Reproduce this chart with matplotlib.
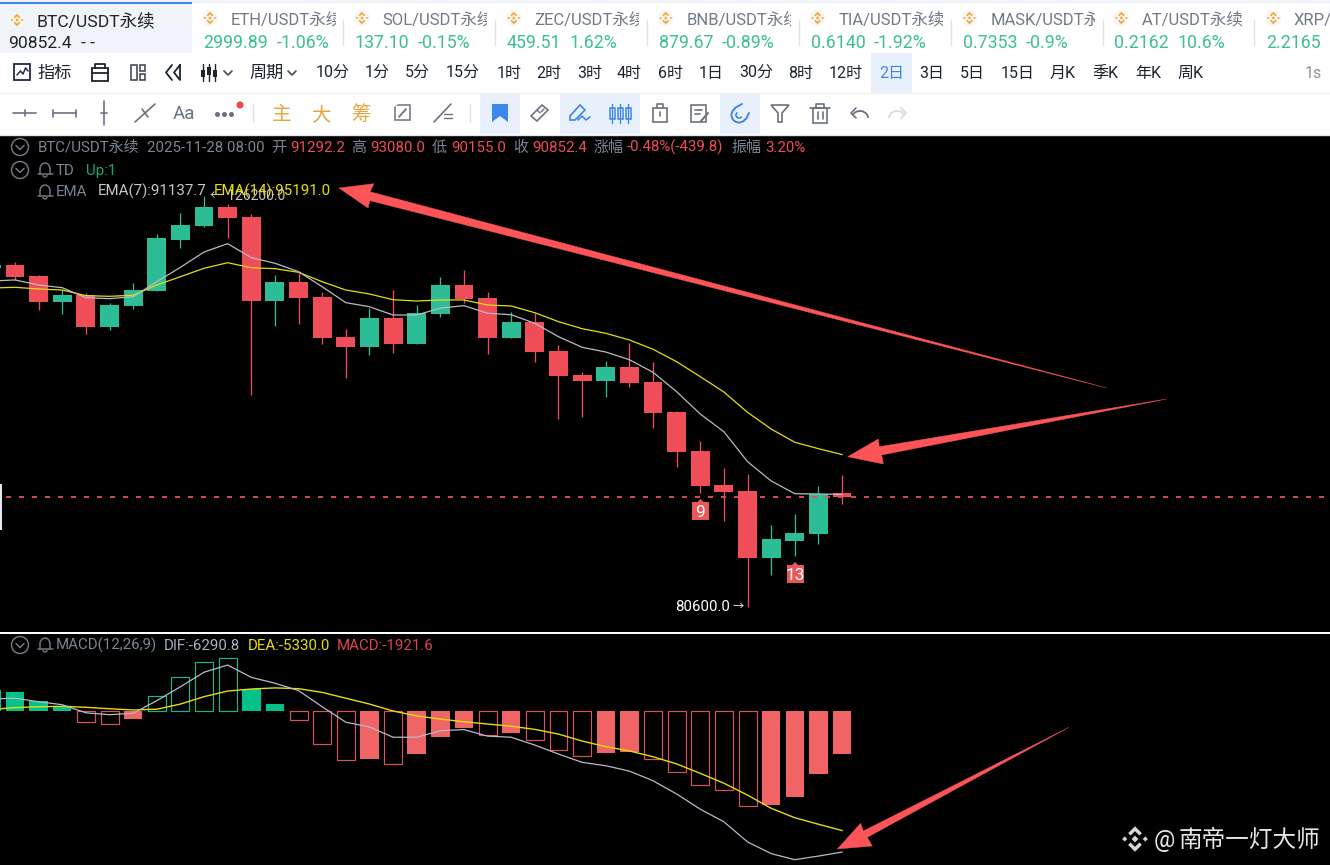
import matplotlib
matplotlib.use('Agg')
import matplotlib.pyplot as plt
from matplotlib.patches import Rectangle, Circle, Polygon, Arc
from matplotlib.ticker import NullLocator
from matplotlib.transforms import Bbox, TransformedBbox

plt.rcParams['font.family'] = ['Roboto', 'Noto Sans CJK SC', 'DejaVu Sans']

# Candles, 2 day BTC/USDT perpetual
opens = [116720, 117100, 115700, 112500, 113320, 109470, 112010, 113860, 120340, 122240,
         124760, 123400, 112620, 114950, 113080, 108240, 107100, 110480, 107380, 110960,
         114570, 112920, 108120, 110030, 106600, 103840, 103200, 104720, 103050, 99690,
         95540, 92110, 91480, 85050, 86650, 87260, 91292.2]
closes = [117100, 115610, 112500, 113320, 109470, 112090, 113940, 120600, 122330, 124760,
          123270, 112620, 114950, 112920, 108090, 107100, 110480, 107380, 111080, 114570,
          112790, 108120, 110030, 106520, 103760, 103200, 104720, 102940, 99620, 95490,
          92010, 91410, 85050, 86780, 87350, 91180, 90852.4]
highs = [117300, 117520, 115830, 113940, 113570, 112340, 114820, 121130, 123940, 126200,
         125170, 123810, 115830, 116080, 113700, 109190, 111720, 113940, 112090, 115610,
         116460, 113660, 111280, 111150, 107300, 104220, 105440, 107500, 105330, 99870,
         96590, 93780, 93170, 88120, 89180, 91980, 93080]
lows = [116500, 115200, 111520, 111000, 108600, 109070, 111600, 113860, 119290, 122060,
        120600, 101590, 109550, 109790, 107420, 103530, 106130, 106400, 107380, 110670,
        112340, 106250, 108120, 105360, 98930, 99210, 101340, 102450, 98030, 93940,
        91310, 88560, 80600, 83460, 85210, 86310, 90155]
ema7 = [115070, 115200, 114570, 114230, 112990, 112870, 113110, 114980, 116800, 118770,
        119860, 118040, 117320, 116250, 114350, 112380, 111880, 110870, 110870, 111720,
        112010, 111080, 110910, 109870, 108280, 107030, 106480, 105590, 104150, 101960,
        99510, 97600, 94460, 92490, 91210, 91180, 91137.7]
ema14 = [114190, 114280, 114070, 113940, 113240, 113160, 113290, 114570, 115610, 116680,
         117390, 116750, 116630, 116170, 114980, 113940, 113450, 112740, 112580, 112710,
         112710, 112090, 111970, 111150, 110070, 109230, 108680, 107890, 106800, 105360,
         103650, 101930, 99690, 97890, 96480, 95810, 95191]

# MACD pane
macd_hist = [940, 850, 450, 220, -500, -580, -360, 670, 1500, 2170,
             2350, 980, 300, -400, -1460, -2190, -2140, -2350, -1920, -1150,
             -760, -1080, -970, -1310, -1740, -2020, -1860, -1850, -2130, -2710,
             -3300, -3520, -4240, -4210, -3820, -2810, -1921.6]
dif = [535, 570, 415, 280, -80, -165, -100, 460, 1080, 1730,
       2050, 1500, 1240, 910, 190, -500, -710, -1170, -1170, -880,
       -830, -1120, -1170, -1520, -1920, -2290, -2440, -2680, -3110, -3700,
       -4380, -4940, -5840, -6360, -6630, -6470, -6290.8]
dea = [70, 150, 190, 210, 165, 100, 45, 80, 310, 640,
       890, 980, 1030, 995, 830, 570, 310, 0, -220, -360,
       -480, -580, -680, -820, -1030, -1340, -1590, -1780, -2040, -2360,
       -2780, -3220, -3750, -4340, -4760, -5050, -5330]

last_price = 90852.4

# Header tabs
tab_names = ['ETH/USDT永续', 'SOL/USDT永续', 'ZEC/USDT永续', 'BNB/USDT永续',
             'TIA/USDT永续', 'MASK/USDT永续', 'AT/USDT永续', 'XRP/USDT永续']
tab_prices = ['2999.89', '137.10', '459.51', '879.67', '0.6140', '0.7353', '0.2162', '2.2165']
tab_changes = ['-1.06%', '-0.15%', '1.62%', '-0.89%', '-1.92%', '-0.9%', '10.6%', '']
periods = ['10分', '1分', '5分', '15分', '1时', '2时', '3时', '4时', '6时', '1日', '30分', '8时',
           '12时', '2日', '3日', '5日', '15日', '月K', '季K', '年K', '周K']

RED = '#ef4d58'
GREEN = '#2dbd96'
GRAY = '#7c8594'
ICON = '#6b7280'
BLUE = '#3f86ea'
ARROW = '#fd5557'
n = len(opens)
x = list(range(n))

fig = plt.figure(figsize=(13.3, 8.65), dpi=100, facecolor='white')

def pane(top, bottom):
    ax = fig.add_axes([0, 1 - bottom / 865, 1, (bottom - top) / 865], facecolor='black')
    ax.set_xlim(0.365, 56.65)
    ax.set_xticks([])
    for s in ax.spines.values():
        s.set_visible(False)
    return ax

# Main candles, the price axis is logarithmic
ax = pane(136, 632)
ax.set_yscale('log')
ax.set_ylim(78420, 134820)
ax.yaxis.set_major_locator(NullLocator())
ax.yaxis.set_minor_locator(NullLocator())
colors = [GREEN if c > o else RED for o, c in zip(opens, closes)]
ax.vlines(x, lows, highs, color=colors, lw=0.95, zorder=2)
ax.bar(x, [abs(c - o) for o, c in zip(opens, closes)], bottom=[min(o, c) for o, c in zip(opens, closes)],
       width=0.8, color=colors, zorder=3)
ax.plot(x, ema14, color='#e8dc10', lw=0.9, zorder=4)
ax.plot(x, ema7, color='#b8bbc4', lw=0.9, zorder=4)
ax.plot([0.62, 56.65], [last_price, last_price], color='#e6505c', lw=1.3, dashes=(2.8, 4.4), zorder=4)

# MACD
ax2 = pane(634, 865)
ax2.set_ylim(-6868, 3434)
ax2.set_yticks([])
for i, v in enumerate(macd_hist):
    prev = macd_hist[i - 1] if i else v
    col = '#03c289' if v > 0 else '#f06466'
    edge = '#12b888' if v > 0 else '#d8535a'
    hollow = v > prev if v > 0 else v < prev
    if hollow:
        ax2.bar(i, v, width=0.76, fill=False, edgecolor=edge, lw=0.85, zorder=2)
    else:
        ax2.bar(i, v, width=0.78, color=col, zorder=2)
ax2.plot(x, dea, color='#e8dc10', lw=1.0, zorder=3)
ax2.plot(x, dif, color='#b4bbcc', lw=0.9, zorder=3)

# Everything else sits on an overlay in screen pixels
ui = fig.add_axes([0, 0, 1, 1], zorder=5)
ui.set_xlim(0, 1330)
ui.set_ylim(865, 0)
ui.axis('off')

def txt(px, py, s, color=GRAY, size=10.8, **kw):
    return ui.text(px, py, s, color=color, fontsize=size, va='baseline', **kw)

def line(xs, ys, color=ICON, lw=1.2):
    ui.plot(xs, ys, color=color, lw=lw, solid_capstyle='round')

def box(x0, y0, x1, y1, **kw):
    ui.add_patch(Rectangle((x0, y0), x1 - x0, y1 - y0, **kw))

def logo(cx, cy, s, color):
    def d(dx, dy, r):
        ui.add_patch(Polygon([(cx + (dx + r) * s, cy + dy * s), (cx + dx * s, cy + (dy + r) * s),
                              (cx + (dx - r) * s, cy + dy * s), (cx + dx * s, cy + (dy - r) * s)],
                             color=color, lw=0))
    d(0, 0, 3.5)
    d(-10.5, 0, 2.6)
    d(10.5, 0, 2.6)
    for sign in (-1, 1):
        pts = [(0, -13), (7, -6), (4.5, -3.5), (0, -8), (-4.5, -3.5), (-7, -6)]
        ui.add_patch(Polygon([(cx + a * s, cy + sign * -b * s) for a, b in pts], color=color, lw=0))

def coin(cx, cy):
    ui.add_patch(Circle((cx, cy), 8, color='#f6f6f4', lw=0))
    logo(cx, cy, 0.48, '#f2a72e')

def fold_icon(cx, cy):
    ui.add_patch(Circle((cx, cy), 8.5, fill=False, ec='#6f7581', lw=1.1))
    line([cx - 4, cx, cx + 4], [cy - 1.5, cy + 2.5, cy - 1.5], '#6f7581', 1.1)

def bell(cx, cy):
    ui.add_patch(Arc((cx, cy - 1), 10, 12, theta1=180, theta2=360, color='#6f7581', lw=1.1))
    line([cx - 5, cx - 5], [cy - 1, cy + 4], '#6f7581', 1.1)
    line([cx + 5, cx + 5], [cy - 1, cy + 4], '#6f7581', 1.1)
    line([cx - 7.5, cx + 7.5], [cy + 4, cy + 4], '#6f7581', 1.1)
    ui.add_patch(Arc((cx, cy + 5), 4, 4, theta1=0, theta2=180, color='#6f7581', lw=1))

def chevron(cx, cy, color='#444c5a'):
    line([cx - 4, cx, cx + 4], [cy - 2, cy + 2, cy - 2], color, 1.2)

# Tab strip
box(0, 0, 1330, 2.5, color='#f0f3f7', lw=0)
box(0, 2.5, 192, 53, color='#f0f4f9', lw=0)
box(0, 2, 192, 4, color=BLUE, lw=0)
coin(17, 20)
txt(36, 26, 'BTC/USDT永续', '#1c2430', 12.6)
txt(8, 48, '90852.4', '#1c2430', 12.6)
txt(81, 48, '-', '#1c2430', 12.6)
txt(90, 48, '-', '#1c2430', 12.6)
for i, (name, price, chg) in enumerate(zip(tab_names, tab_prices, tab_changes)):
    left = 203 + 151.9 * i
    coin(left + 7, 18)
    t = txt(left + 27.7, 25, name, '#727a88', 12)
    t.set_clip_on(True)
    t.set_clip_box(TransformedBbox(Bbox([[left, 0], [left + 132.5, 50]]), ui.transData))
    txt(left, 48, price, '#3dbf94', 12.8)
    txt(left + (74 if i == 0 else 63), 48, chg, '#3dbf94', 12.8)
    if i < 7:
        line([left + 140] * 2, [20, 45], '#dfe3e8', 1)

# Period row
ui.add_patch(Rectangle((14, 64), 16, 16, fill=False, ec='#1f2a44', lw=1.3))
line([17, 20.5, 23, 25.5, 28], [75, 71, 74, 68, 71], '#1f2a44', 1.1)
txt(37, 78, '指标', '#1c2430', 12.3)
ui.add_patch(Rectangle((92, 68), 16, 13, fill=False, ec='#1c2430', lw=1.3))
line([95, 95, 105, 105], [68, 64, 64, 68], '#1c2430', 1.3)
line([92, 108], [73, 73], '#1c2430', 1.3)
ui.add_patch(Rectangle((130.5, 65), 6, 15, fill=False, ec='#444c5a', lw=1.2))
ui.add_patch(Rectangle((139.5, 65), 5.5, 6, fill=False, ec='#444c5a', lw=1.2))
ui.add_patch(Rectangle((139.5, 74), 5.5, 6, fill=False, ec='#444c5a', lw=1.2))
line([172, 166, 172], [65, 72.5, 80], '#1c2430', 1.3)
line([180, 174, 180, 180], [65, 72.5, 80, 65], '#1c2430', 1.3)
for cx, (t0, t1) in zip([203, 209, 215], [(70, 77), (67, 75), (70, 77)]):
    line([cx, cx], [64, 81], '#1c2430', 1)
    box(cx - 1.6, t0, cx + 1.6, t1, color='#1c2430', lw=0)
chevron(228, 73)
txt(249, 78, '周期', '#1c2430', 12.3)
chevron(292, 73)
period_x = [316, 365, 405, 446, 497, 536, 577, 617, 658, 699, 739, 788, 829, 879, 919, 960, 1001,
            1050, 1092, 1135, 1177]
box(871, 53, 912, 93, color='#e8f1fb', lw=0)
for px, p in zip(period_x, periods):
    txt(px, 78, p, BLUE if p == '2日' else '#1c2430', 11.5)
txt(1305, 78, '1s', '#8b919c', 11.5)
line([0, 1330], [93, 93], '#eef0f3', 1)

# Drawing tools row
line([13, 36], [113, 113])
line([24.5, 24.5], [110, 116])
line([53, 76], [113, 113])
line([53, 53], [109.5, 116.5])
line([76, 76], [109.5, 116.5])
line([104, 104], [101, 125])
line([101, 107], [113, 113])
line([135, 155], [122, 104])
line([142, 148], [109, 117])
txt(173, 119, 'Aa', ICON, 13.5)
ui.plot([217, 224, 231], [113.5] * 3, 'o', color=ICON, ms=2.6)
ui.add_patch(Circle((240, 105), 3.5, color='#f0483e', lw=0))
line([253, 253], [104, 122], '#dfe3e8', 1)
for px, s in zip([282, 321, 361], ['主', '大', '筹']):
    txt(px, 120, s, '#e3a53f', 14, ha='center')
ui.add_patch(Rectangle((395, 105), 15, 15, fill=False, ec=ICON, lw=1.1))
line([399, 406], [117, 109], ICON, 1.3)
line([391, 395, 399], [108, 105, 102], '#ffffff', 1.6)
line([434, 451], [122, 104])
line([444, 452], [114, 114], ICON, 1)
line([444, 452], [118, 118], ICON, 1)
line([470, 470], [104, 122], '#dfe3e8', 1)
for x0, x1 in [(480, 520), (560, 640), (720, 760)]:
    box(x0, 94, x1, 134, color='#e8f1fb', lw=0)
ui.add_patch(Polygon([(492, 104), (508, 104), (508, 122), (500, 116), (492, 122)], color=BLUE, lw=0))
ui.add_patch(Polygon([(531, 116), (542, 105), (548, 110), (537, 121)], fill=False, ec=ICON, lw=1.2))
line([537, 540], [110, 113], ICON, 1)
line([541, 544], [112, 109], ICON, 1)
ui.add_patch(Polygon([(570, 116), (580, 105), (585, 110), (575, 120), (570, 120)], fill=False, ec=BLUE, lw=1.2))
line([578, 582, 586, 590], [120, 116, 120, 117], BLUE, 1.2)
for cx in [612, 620, 628]:
    ui.add_patch(Rectangle((cx - 2.5, 108), 5, 11, fill=False, ec=BLUE, lw=1.1))
    line([cx, cx], [104, 123], BLUE, 1)
ui.add_patch(Rectangle((653, 108), 14, 14, fill=False, ec=ICON, lw=1.2))
line([657, 657, 663, 663], [108, 104, 104, 108])
line([660, 660], [112, 116])
ui.add_patch(Rectangle((691, 105), 15, 17, fill=False, ec=ICON, lw=1.2))
line([695, 702], [110, 110])
line([695, 700], [114, 114])
line([701, 708], [121, 113], ICON, 1.5)
# magnet
ui.add_patch(Arc((739, 115), 15, 15, theta1=30, theta2=240, color=BLUE, lw=1.4))
ui.add_patch(Arc((739, 115), 6, 6, theta1=30, theta2=240, color=BLUE, lw=1.2))
line([735, 742], [108, 104], BLUE, 1.4)
line([746, 749], [119, 113], BLUE, 1.4)
ui.add_patch(Polygon([(771, 105), (789, 105), (782, 113), (782, 122), (778, 122), (778, 113)], fill=False, ec=ICON, lw=1.2))
ui.add_patch(Rectangle((813, 108), 14, 15, fill=False, ec=ICON, lw=1.2))
line([810, 830], [108, 108])
line([816, 816, 824, 824], [108, 104, 104, 108])
line([817.5, 817.5], [112, 119])
line([822.5, 822.5], [112, 119])
ui.add_patch(Arc((860, 118), 16, 14, theta1=200, theta2=360, color=ICON, lw=1.3))
line([856, 851, 856], [108, 113, 118])
ui.add_patch(Arc((897, 118), 16, 14, theta1=180, theta2=340, color='#d9dce1', lw=1.3))
line([901, 906, 901], [108, 113, 118], '#d9dce1', 1.3)
line([0, 1330], [135, 135], '#e6e8ec', 1)

# Legends on the candle pane
fold_icon(20, 147)
txt(38, 152, 'BTC/USDT永续', GRAY)
txt(147, 152, '2025-11-28 08:00', GRAY)
for px, label, val in [(271, '开', '91292.2'), (351, '高', '93080.0'), (432, '低', '90155.0'), (513, '收', '90852.4')]:
    txt(px, 152, label, GRAY)
    txt(px + 19, 152, val, RED)
txt(593, 152, '涨幅', GRAY)
txt(627, 152, '-0.48%(-439.8)', RED)
txt(731, 152, '振幅', GRAY)
txt(765, 152, '3.20%', RED)
fold_icon(20, 170)
bell(45, 170)
txt(56, 175, 'TD', GRAY)
txt(86, 175, 'Up:1', '#0fae7f')
bell(45, 192)
txt(56, 196, 'EMA', GRAY)
txt(210, 200, '← 126200.0', '#c8c8c8', 10)
txt(98, 196, 'EMA(7):91137.7', '#c4c7cd')
txt(214, 196, 'EMA(14):95191.0', '#e8e000')
txt(675, 611, '80600.0', 'white', 10.8)
txt(733, 610, '→', 'white', 8)

# TD sequence marks
for cx, top, s in [(700.5, 502, '9'), (795, 565, '13')]:
    box(cx - 8.5, top, cx + 8.5, top + 18, color='#e8575a', lw=0)
    ui.add_patch(Polygon([(cx - 3, top), (cx, top - 3), (cx + 3, top)], color='#e8575a', lw=0))
    ui.text(cx, top + 15, s, color='white', fontsize=12.5, ha='center', va='baseline')

# Split handle and pane divider
box(0, 484, 2.2, 530, color='#e6e6f0', lw=0)
box(0, 632.5, 1330, 634, color='white', lw=0)

# MACD legend
fold_icon(20, 645)
bell(45, 645)
txt(56, 650, 'MACD(12,26,9)', GRAY)
txt(164, 650, 'DIF:-6290.8', '#a9b2c6')
txt(248, 650, 'DEA:-5330.0', '#e8e000')
txt(337, 650, 'MACD:-1921.6', '#dd4650')

# Hand drawn arrows from the screenshot
arrows = [
    [(339, 188), (374, 183.7), (370, 191.7), (1107, 388), (370, 200.7), (368, 208)],
    [(847.7, 456.7), (878.3, 439), (879.3, 446.7), (1166.7, 399), (881.7, 455), (883.3, 464)],
    [(837.3, 849), (860.7, 823.3), (863.3, 831), (1069, 727.3), (867.3, 837.3), (872.3, 846)],
]
for pts in arrows:
    ui.add_patch(Polygon(pts, color=ARROW, lw=0.3))

# Watermark
logo(1135, 839, 0.98, '#d5d7da')
txt(1154, 847, '@', '#e6e6e6', 17)
txt(1179, 847, '南帝一灯大师', '#e6e6e6', 17)

fig.savefig('out.png', dpi=100)
